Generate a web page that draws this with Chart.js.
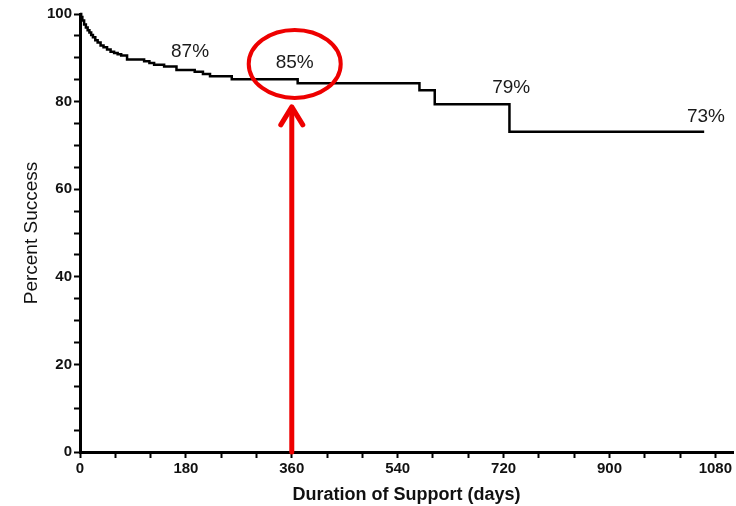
<!DOCTYPE html>
<html>
<head>
<meta charset="utf-8">
<script src="https://cdn.jsdelivr.net/npm/chart.js@4.4.0/dist/chart.umd.min.js"></script>
<style>
html,body{margin:0;padding:0;background:#fff;}
#wrap{position:relative;width:736px;height:506px;}
</style>
</head>
<body>
<div id="wrap"><canvas id="c" width="736" height="506"></canvas></div>
<script>
// Kaplan-Meier style survival curve (days, percent success)
const days = [0, 2, 4, 7, 10, 13, 16, 19, 22, 26, 30, 35, 40, 46, 52, 58, 64, 70, 80, 109, 118, 126, 143, 164, 195, 209, 221, 258, 370, 577, 603, 730, 1061];
const percentSuccess = [100, 99.3, 98.5, 97.6, 96.9, 96.3, 95.8, 95.2, 94.7, 94.0, 93.5, 92.8, 92.4, 91.9, 91.4, 91.1, 90.8, 90.5, 89.6, 89.2, 88.8, 88.4, 88.0, 87.2, 86.8, 86.3, 85.8, 85.1, 84.2, 82.6, 79.4, 73.1, 73.1];

const xTickLabels = [0, 180, 360, 540, 720, 900, 1080];
const xMinorTicks = [0, 60, 120, 180, 240, 300, 360, 420, 480, 540, 600, 660, 720, 780, 840, 900, 960, 1020, 1080];
const yTickLabels = [0, 20, 40, 60, 80, 100];

const noteTexts = ['87%', '85%', '79%', '73%'];
const noteDays = [187, 365, 733, 1064];
const notePcts = [91.3, 88.8, 83.1, 76.5];

const highlightDay = 360;      // arrow position
const highlightTipPct = 78.8;  // arrow tip
const circleDay = 365;
const circlePct = 88.6;

const annotPlugin = {
  id: 'annot',
  afterDatasetsDraw(chart) {
    const {ctx, scales: {x, y}} = chart;
    ctx.save();
    ctx.fillStyle = '#1a1a1a';
    ctx.font = '19px "Liberation Sans", Arial, sans-serif';
    ctx.textAlign = 'center';
    ctx.textBaseline = 'middle';
    noteTexts.forEach((t, i) => {
      ctx.fillText(t, x.getPixelForValue(noteDays[i]), y.getPixelForValue(notePcts[i]));
    });
    ctx.strokeStyle = '#ee0000';
    ctx.lineWidth = 4;
    ctx.beginPath();
    ctx.ellipse(x.getPixelForValue(circleDay), y.getPixelForValue(circlePct), 46, 34, 0, 0, Math.PI * 2);
    ctx.stroke();
    const ax = x.getPixelForValue(highlightDay);
    const ay0 = y.getPixelForValue(0);
    const ay1 = y.getPixelForValue(highlightTipPct);
    ctx.lineWidth = 5;
    ctx.lineCap = 'round';
    ctx.lineJoin = 'round';
    ctx.beginPath();
    ctx.moveTo(ax, ay0);
    ctx.lineTo(ax, ay1 + 2);
    ctx.stroke();
    ctx.beginPath();
    ctx.moveTo(ax - 11, ay1 + 18);
    ctx.lineTo(ax, ay1);
    ctx.lineTo(ax + 11, ay1 + 18);
    ctx.stroke();
    ctx.restore();
  }
};

const isMajor = (v, list) => list.includes(Math.round(v));

new Chart(document.getElementById('c'), {
  type: 'line',
  data: {
    datasets: [{
      data: days.map((d, i) => ({x: d, y: percentSuccess[i]})),
      borderColor: '#000',
      borderWidth: 2.5,
      pointRadius: 0,
      stepped: 'before',
      fill: false,
      clip: false
    }]
  },
  options: {
    responsive: false,
    animation: false,
    layout: {padding: {top: 14, right: 3, left: 0, bottom: 0}},
    plugins: {legend: {display: false}, tooltip: {enabled: false}},
    scales: {
      x: {
        type: 'linear',
        min: 0,
        max: 1110,
        afterBuildTicks(s) { s.ticks = xMinorTicks.map(v => ({value: v})); },
        afterFit(s) { s.height = 54; },
        ticks: {
          autoSkip: false,
          maxRotation: 0,
          color: '#111',
          padding: 2,
          font: {family: '"Liberation Sans", Arial', size: 15, weight: 'bold'},
          callback: v => isMajor(v, xTickLabels) ? String(Math.round(v)) : ''
        },
        grid: {drawOnChartArea: false, drawTicks: true, tickLength: 6, tickWidth: 2, tickColor: '#000'},
        border: {display: true, color: '#000', width: 3},
        title: {
          display: true,
          text: 'Duration of Support (days)',
          color: '#111',
          padding: {top: 1, bottom: 0},
          font: {family: '"Liberation Sans", Arial', size: 18, weight: 'bold'}
        }
      },
      y: {
        type: 'linear',
        min: 0,
        max: 100,
        afterFit(s) { s.width = 80; },
        ticks: {
          stepSize: 5,
          autoSkip: false,
          color: '#111',
          padding: 2,
          font: {family: '"Liberation Sans", Arial', size: 15, weight: 'bold'},
          callback: v => isMajor(v, yTickLabels) ? String(Math.round(v)) : ''
        },
        grid: {drawOnChartArea: false, drawTicks: true, tickLength: 6, tickWidth: 2, tickColor: '#000'},
        border: {display: true, color: '#000', width: 3},
        title: {
          display: true,
          text: 'Percent Success',
          color: '#111',
          padding: {top: 20, bottom: 0},
          font: {family: '"Liberation Sans", Arial', size: 19}
        }
      }
    }
  },
  plugins: [annotPlugin]
});
</script>
</body>
</html>
